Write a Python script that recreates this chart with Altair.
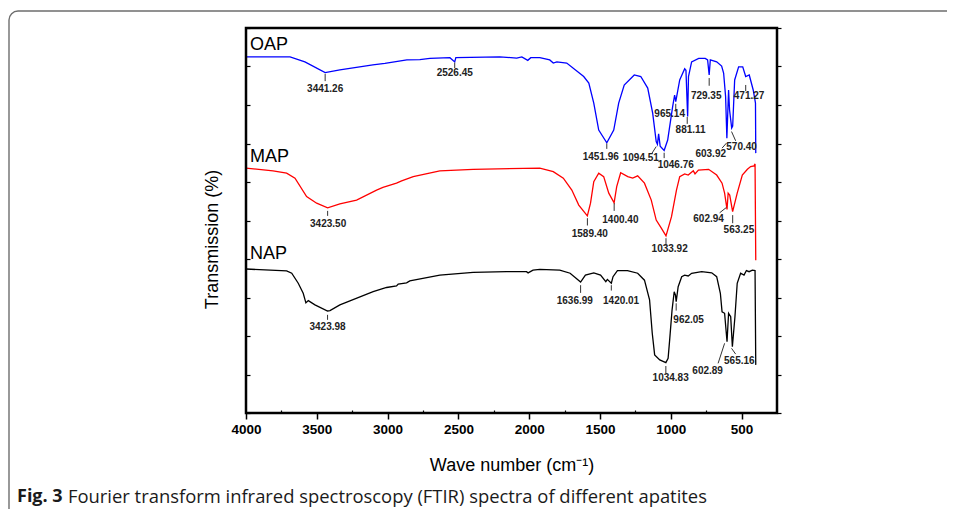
import altair as alt
import pandas as pd

# ---------------- data ----------------
series_names = ["OAP", "MAP", "NAP"]
series_colors = ["#0000ff", "#ff0000", "#000000"]

oap_w = [4000, 3689, 3584, 3441, 3337, 3104, 3019, 2864, 2772, 2701, 2560, 2526, 2518, 2208, 2088,
         2052, 2010, 1989, 1925, 1855, 1830, 1805, 1735, 1615, 1579, 1544, 1509, 1452, 1403, 1368,
         1329, 1258, 1212, 1163, 1128, 1103, 1094.5, 1086, 1075, 1047, 1022, 987, 973, 965, 937,
         902, 893, 881, 875, 853, 803, 757, 740, 729, 721, 676, 641, 627, 613, 604, 592, 585, 570,
         563, 549, 521, 492, 471, 446, 418, 402, 400]
oap_t = [92.5, 92.5, 91.2, 88.4, 89.1, 90.4, 90.8, 91.7, 91.8, 92.1, 92.3, 91.2, 92.3, 92.5, 92.2,
         92.5, 91.6, 92.3, 92.3, 91.7, 90.9, 91.2, 90.9, 87.4, 85.7, 80.5, 73.5, 70.2, 73.5, 80.5,
         85.2, 87.8, 87.4, 84.4, 77.9, 70.5, 69.8, 72.5, 69.3, 68.2, 70.9, 79.6, 82.6, 80.9, 86.5,
         89.4, 89.0, 77.0, 87.4, 91.2, 92.1, 92.1, 91.7, 87.8, 91.7, 91.2, 90.1, 88.3, 82.2, 71.4,
         83.9, 78.7, 74.0, 74.5, 86.5, 89.9, 89.9, 87.4, 87.8, 83.9, 80.5, 67.5]

map_w = [4000, 3809, 3713, 3654, 3572, 3501, 3423.5, 3337, 3219, 3078, 3033, 2937, 2901, 2819, 2631,
         2396, 1925, 1830, 1759, 1699, 1650, 1589.4, 1567, 1544, 1509, 1474, 1438, 1400.4, 1382, 1354,
         1304, 1269, 1234, 1186, 1138, 1103, 1067, 1033.9, 995, 960, 937, 902, 877, 841, 829, 805,
         733, 676, 638, 620, 602.9, 595, 584, 563.3, 531, 495, 459, 436, 412, 405, 400]
map_t = [63.6, 62.9, 62.3, 61.0, 56.2, 54.5, 53.3, 54.3, 55.3, 57.9, 58.6, 59.7, 60.3, 61.4, 62.9,
         63.3, 63.6, 62.7, 61.0, 57.9, 54.0, 51.2, 54.5, 60.1, 62.3, 61.4, 57.1, 54.6, 58.8, 62.4,
         61.4, 61.0, 61.6, 59.7, 55.3, 50.1, 48.0, 46.0, 51.0, 57.9, 61.4, 62.1, 61.8, 62.9, 62.1, 63.1,
         63.3, 61.8, 59.7, 57.1, 52.9, 57.1, 56.6, 52.3, 57.1, 61.8, 63.3, 64.0, 64.2, 64.7, 39.7]

nap_w = [4000, 3713, 3677, 3631, 3596, 3577, 3560, 3513, 3424, 3407, 3337, 3266, 3102, 3007, 2937,
         2925, 2866, 2843, 2631, 2396, 2160, 2019, 2008, 1973, 1925, 1784, 1711, 1637, 1603, 1544,
         1496, 1459, 1448, 1420, 1408, 1377, 1306, 1234, 1186, 1150, 1131, 1114, 1078, 1034.8, 1019,
         1008, 991, 976, 967, 962, 948, 923, 902, 877, 853, 782, 711, 676, 650, 638, 620, 602.9,
         592, 577, 565.2, 547, 531, 507, 483, 466, 447, 424, 405, 400]
nap_t = [37.4, 36.9, 36.3, 33.7, 31.1, 28.6, 29.2, 28.1, 26.5, 26.6, 28.1, 29.1, 31.5, 32.6, 33.0,
         33.5, 33.8, 34.3, 35.8, 36.5, 36.7, 36.7, 36.4, 37.1, 37.3, 37.1, 36.3, 34.0, 35.8, 36.4,
         35.8, 34.1, 34.7, 33.7, 35.4, 37.0, 37.0, 36.3, 34.5, 29.4, 20.7, 15.1, 13.8, 13.1, 14.2,
         19.0, 26.8, 31.5, 30.6, 28.9, 32.8, 35.4, 35.8, 35.6, 36.3, 36.7, 36.4, 35.4, 31.1, 26.3,
         25.9, 18.5, 25.9, 25.0, 17.2, 25.0, 33.7, 36.3, 35.8, 37.0, 36.7, 37.1, 37.0, 12.5]

# series name labels inside the plot
name_w = [3972, 3972, 3972]
name_t = [95.6, 66.5, 41.3]

# peak annotations: text, text position, leader line ends
ann_text = ["3441.26", "2526.45", "1451.96", "1094.51", "1046.76", "965.14", "881.11", "729.35",
            "603.92", "570.40", "471.27",
            "3423.50", "1589.40", "1400.40", "1033.92", "602.94", "563.25",
            "3423.98", "1636.99", "1420.01", "962.05", "1034.83", "602.89", "565.16"]
ann_w = [3441, 2526, 1495, 1212, 965, 1008, 860, 750, 718, 500, 447,
         3420, 1572, 1356, 1008, 733, 519,
         3424, 1678, 1351, 874, 1001, 740, 516]
ann_t = [84.2, 88.2, 66.6, 66.3, 64.4, 77.6, 73.5, 82.4, 67.2, 69.2, 82.4,
         49.1, 46.4, 50.1, 42.5, 50.3, 47.5,
         22.3, 29.1, 29.1, 24.2, 9.0, 11.0, 13.5]
lead_w1 = [3441, 2526, 1452, 1136, 1047, 965, 884, 729, 638, 571, 471,
           3423.5, 1589, 1400, 1034, 655, 563,
           3424, 1637, 1420, 962, 1035, 666, 571]
lead_t1 = [88.1, 91.0, 70.0, 67.3, 67.6, 80.3, 76.9, 87.0, 68.8, 73.1, 85.2,
           52.5, 50.6, 54.5, 45.4, 52.0, 51.4,
           25.5, 33.2, 33.2, 28.5, 12.2, 12.9, 16.8]
lead_w2 = [3441, 2526, 1452, 1103, 1047, 965, 884, 729, 607, 542, 471,
           3423.5, 1589, 1400, 1034, 607, 563,
           3424, 1637, 1420, 962, 1035, 620, 542]
lead_t2 = [86.2, 89.6, 68.6, 69.2, 66.2, 78.3, 75.1, 85.0, 70.1, 70.7, 83.6,
           51.2, 48.7, 52.5, 43.5, 53.4, 49.3,
           24.2, 31.2, 31.8, 26.6, 10.3, 18.1, 15.3]

major_ticks = [4000, 3500, 3000, 2500, 2000, 1500, 1000, 500]
minor_ticks = [3750, 3250, 2750, 2250, 1750, 1250, 750]
y_ticks = [0, 10, 20, 30, 40, 50, 60, 70, 80, 90, 100]

caption_bold = "Fig. 3"
caption_text = "Fourier transform infrared spectroscopy (FTIR) spectra of different apatites"

# ---------------- tables ----------------
rows = []
for name, ws, ts in zip(series_names, [oap_w, map_w, nap_w], [oap_t, map_t, nap_t]):
    for i, (w, t) in enumerate(zip(ws, ts)):
        rows.append({"series": name, "w": w, "t": t, "i": i})
spectra = pd.DataFrame(rows)

names_df = pd.DataFrame({"series": series_names, "w": name_w, "t": name_t})
ann_df = pd.DataFrame({"label": ann_text, "w": ann_w, "t": ann_t,
                       "w1": lead_w1, "t1": lead_t1, "w2": lead_w2, "t2": lead_t2})

FONT = "Liberation Sans"
x_scale = alt.Scale(domain=[4000, 250], nice=False, zero=False)
y_scale = alt.Scale(domain=[0, 100], nice=False, zero=False)
color_scale = alt.Scale(domain=series_names, range=series_colors)

one = pd.DataFrame({"k": [0]})

# outer figure box (decoration)
frame = alt.Chart(one).mark_rect(
    fillOpacity=0, stroke="#6e6e6e", strokeWidth=1.4, cornerRadius=9
).encode(
    x=alt.value(-237), x2=alt.value(760), y=alt.value(-17), y2=alt.value(530)
)

# plot-area border (decoration)
border = alt.Chart(one).mark_rect(
    fillOpacity=0, stroke="black", strokeWidth=2.5
).encode(
    x=alt.value(0), x2=alt.value(531), y=alt.value(0), y2=alt.value(385)
)

lines = alt.Chart(spectra).mark_line(strokeWidth=1.3, clip=True).encode(
    x=alt.X("w:Q", scale=x_scale, axis=alt.Axis(
        values=major_ticks, format="d", title="Wave number (cm⁻¹)",
        titleFont=FONT, titleFontSize=18, titleFontWeight="normal", titleColor="black",
        titleY=52, titleBaseline="middle",
        labelFont=FONT, labelFontSize=13.5, labelFontWeight="bold", labelColor="black",
        labelPadding=3, labelFlush=False, labelOverlap=False,
        tickSize=6, tickWidth=1.5, tickColor="black", domain=False, grid=False)),
    y=alt.Y("t:Q", scale=y_scale, axis=alt.Axis(
        values=y_ticks, labels=False, title="Transmission (%)",
        titleFont=FONT, titleFontSize=18, titleFontWeight="normal", titleColor="black",
        titleX=-38, titleY=211, titleBaseline="middle",
        tickSize=4, tickWidth=1.2, tickColor="black", offset=-4, domain=False, grid=False)),
    color=alt.Color("series:N", scale=color_scale, legend=None),
    detail="series:N",
    order="i:Q",
)

ghost = alt.Chart(spectra).mark_point(opacity=0).encode(
    x=alt.X("w:Q", scale=x_scale, axis=alt.Axis(
        orient="bottom", values=minor_ticks, labels=False, title=None,
        tickSize=3, tickWidth=1.2, tickColor="black", offset=-3, domain=False, grid=False)),
    y=alt.Y("t:Q", scale=y_scale, axis=alt.Axis(
        orient="right", values=y_ticks, labels=False, title=None,
        tickSize=4, tickWidth=1.2, tickColor="black", domain=False, grid=False)),
)

names = alt.Chart(names_df).mark_text(
    align="left", baseline="middle", font=FONT, fontSize=18, color="black"
).encode(
    x=alt.X("w:Q", scale=x_scale, axis=None),
    y=alt.Y("t:Q", scale=y_scale, axis=None),
    text="series:N",
)

leaders = alt.Chart(ann_df).mark_rule(color="#333333", strokeWidth=1).encode(
    x=alt.X("w1:Q", scale=x_scale, axis=None),
    x2="w2:Q",
    y=alt.Y("t1:Q", scale=y_scale, axis=None),
    y2="t2:Q",
)

ann = alt.Chart(ann_df).mark_text(
    align="center", baseline="middle", font=FONT, fontSize=10, fontWeight="bold", color="#222222"
).encode(
    x=alt.X("w:Q", scale=x_scale, axis=None),
    y=alt.Y("t:Q", scale=y_scale, axis=None),
    text="label:N",
)

cap1 = alt.Chart(one).mark_text(
    align="left", baseline="middle", font="Open Sans", fontSize=18, fontWeight="bold", color="#1a1a1a"
).encode(x=alt.value(-229), y=alt.value(469), text=alt.value(caption_bold))

cap2 = alt.Chart(one).mark_text(
    align="left", baseline="middle", font="Open Sans", fontSize=18.4, color="#1a1a1a"
).encode(x=alt.value(-178), y=alt.value(469), text=alt.value(caption_text))

chart = alt.layer(frame, lines, ghost, names, leaders, ann, border, cap1, cap2).resolve_axis(
    x="independent", y="independent"
).properties(
    width=531, height=385,
    autosize=alt.AutoSizeParams(type="none"),
    padding={"left": 238, "top": 20, "right": 170, "bottom": 96},
).configure_view(
    stroke="transparent"
)

chart.save("out.html", embed_options={"renderer": "svg", "actions": False})
